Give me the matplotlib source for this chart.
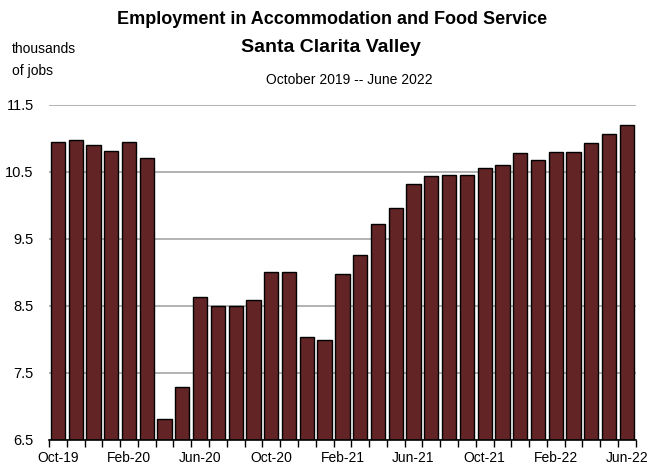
import matplotlib
matplotlib.use("Agg")
import matplotlib.pyplot as plt
import numpy as np

plt.rcParams['font.family'] = ['Liberation Sans', 'DejaVu Sans']

# monthly values, thousands of jobs
months = ["Oct-19", "Nov-19", "Dec-19", "Jan-20", "Feb-20", "Mar-20", "Apr-20", "May-20",
          "Jun-20", "Jul-20", "Aug-20", "Sep-20", "Oct-20", "Nov-20", "Dec-20", "Jan-21",
          "Feb-21", "Mar-21", "Apr-21", "May-21", "Jun-21", "Jul-21", "Aug-21", "Sep-21",
          "Oct-21", "Nov-21", "Dec-21", "Jan-22", "Feb-22", "Mar-22", "Apr-22", "May-22",
          "Jun-22"]
jobs = [10.94, 10.98, 10.90, 10.81, 10.95, 10.71, 6.81, 7.29,
        8.63, 8.50, 8.50, 8.58, 9.00, 9.01, 8.04, 7.99,
        8.97, 9.26, 9.72, 9.96, 10.32, 10.43, 10.45, 10.45,
        10.56, 10.60, 10.78, 10.68, 10.80, 10.80, 10.93, 11.06,
        11.19]
yticks = [6.5, 7.5, 8.5, 9.5, 10.5, 11.5]

fig = plt.figure(figsize=(6.47, 4.75), dpi=100)
ax = fig.add_axes([0.0757, 0.0737, 0.907, 0.706])

x = np.arange(len(jobs))
ax.bar(x, np.array(jobs) - 6.5, bottom=6.5, width=0.8, color="#632425",
       edgecolor="black", linewidth=1.0, zorder=3)

ax.set_ylim(6.5, 11.5)
ax.set_xlim(-0.5, len(jobs) - 0.5)
ax.set_yticks(yticks)
ax.set_yticklabels([f"{v:.1f}" for v in yticks], fontsize=10.5)
ax.yaxis.grid(True, color="#a6a6a6", linewidth=1.2, zorder=0)
ax.tick_params(axis="y", length=0, pad=11)

# category boundary ticks, labels every 4 months
ax.set_xticks(np.arange(len(jobs) + 1) - 0.5, minor=True)
ax.set_xticks(x[::4])
ax.set_xticklabels(months[::4], fontsize=10)
ax.tick_params(axis="x", which="major", length=0, pad=8)
ax.tick_params(axis="x", which="minor", length=5, width=1, color="black", direction="out")

for s in ["left", "right", "top"]:
    ax.spines[s].set_visible(False)
ax.spines["bottom"].set_color("black")
ax.spines["bottom"].set_linewidth(1.2)
ax.spines["bottom"].set_zorder(4)

fig.text(0.514, 0.958, "Employment in Accommodation and Food Service", ha="center",
         va="center", fontsize=13, fontweight="bold")
fig.text(0.512, 0.899, "Santa Clarita Valley", ha="center", va="center",
         fontsize=14, fontweight="bold")
fig.text(0.54, 0.831, "October 2019 -- June 2022", ha="center", va="center", fontsize=10)
fig.text(0.018, 0.897, "thousands", ha="left", va="center", fontsize=10)
fig.text(0.018, 0.851, "of jobs", ha="left", va="center", fontsize=10)

fig.savefig("out.png", dpi=100)
